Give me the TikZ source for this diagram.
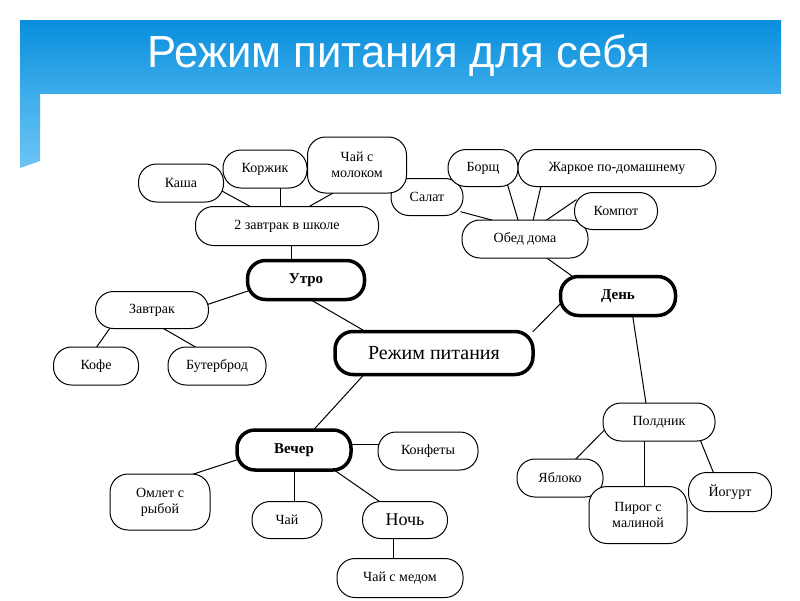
\documentclass[tikz,border=0pt]{standalone}
\usepackage{fontspec}
\setmainfont{Liberation Serif}
\newfontfamily\titlefont[FakeStretch=0.97]{Liberation Sans}
\usepackage{tikz}
\usetikzlibrary{backgrounds}

\definecolor{bartop}{RGB}{8,142,220}
\definecolor{barbot}{RGB}{60,172,234}
\definecolor{stripbot}{RGB}{110,196,245}

\begin{document}
\begin{tikzpicture}[x=1pt, y=-1pt,
	box/.style={draw, fill=white, rectangle, rounded corners=18pt, line width=1pt, inner sep=0pt, align=center, font=\fontsize{14}{16}\selectfont},
	hub/.style={box, line width=3.5pt, font=\fontsize{15}{17}\selectfont\bfseries},
	every edge/.append style={line width=1pt, shorten <=-3pt, shorten >=-3pt}]
		\useasboundingbox (0,0) rectangle (800,600);
		
		\node[font=\titlefont\fontsize{45}{50}\selectfont, text=white, anchor=base] (title) at (398.5,67) {Режим питания для себя};
		
		\node[hub, minimum width=198pt, minimum height=43pt, font=\fontsize{20}{22}\selectfont] (rezhim) at (434,353) {Режим питания};
		
		% утро
		\node[hub, minimum width=117pt, minimum height=39pt] (utro) at (306,280) {Утро};
		\node[box, minimum width=183pt, minimum height=39pt] (zavtrak2) at (287,226) {2 завтрак в школе};
		\node[box, minimum width=85pt, minimum height=38pt] (kasha) at (181,183) {Каша};
		\node[box, minimum width=84pt, minimum height=38pt] (korzhik) at (265,169) {Коржик};
		\node[box, minimum width=72pt, minimum height=37pt] (salat) at (427,197) {Салат};
		\node[box, minimum width=99pt, minimum height=56pt] (chaimilk) at (357,165) {Чай с\\молоком};
		\node[box, minimum width=113pt, minimum height=37pt] (zavtrak) at (152,310) {Завтрак};
		\node[box, minimum width=85pt, minimum height=38pt] (kofe) at (96,366) {Кофе};
		\node[box, minimum width=98pt, minimum height=38pt] (buter) at (217,366) {Бутерброд};
		
		% день
		\node[hub, minimum width=115pt, minimum height=39pt] (den) at (618,296) {День};
		\node[box, minimum width=126pt, minimum height=38pt] (obed) at (525,239) {Обед дома};
		\node[box, minimum width=70pt, minimum height=37pt] (borsch) at (483,168) {Борщ};
		\node[box, minimum width=198pt, minimum height=37pt] (zharkoe) at (617,168) {Жаркое по-домашнему};
		\node[box, minimum width=83pt, minimum height=37pt] (kompot) at (616,211) {Компот};
		\node[box, minimum width=112pt, minimum height=38pt] (poldnik) at (659,422) {Полдник};
		\node[box, minimum width=86pt, minimum height=38pt] (yabloko) at (560,478) {Яблоко};
		\node[box, minimum width=98pt, minimum height=57pt] (pirog) at (638,515) {Пирог с\\малиной};
		\node[box, minimum width=83pt, minimum height=39pt] (yogurt) at (730,492) {Йогурт};
		
		% вечер
		\node[hub, minimum width=114pt, minimum height=40pt] (vecher) at (294,450) {Вечер};
		\node[box, minimum width=100pt, minimum height=38pt] (konfety) at (428,451) {Конфеты};
		\node[box, minimum width=100pt, minimum height=56pt] (omlet) at (160,502) {Омлет с\\рыбой};
		\node[box, minimum width=70pt, minimum height=37pt] (chai) at (287,520) {Чай};
		\node[box, minimum width=85pt, minimum height=37pt, font=\fontsize{18}{20}\selectfont] (noch) at (405,520) {Ночь};
		\node[box, minimum width=126pt, minimum height=39pt] (chaimed) at (400,578) {Чай с медом};
		
		\begin{scope}[on background layer]
			\fill[white] (0,0) rectangle (800,600);
			\shade[top color=bartop, bottom color=barbot] (20,20) rectangle (781,93);
			\shade[top color=barbot, bottom color=stripbot] (20,93) -- (40,93) -- (40,161) -- (20,168) -- cycle;
			
			\path (rezhim.162) edge (utro.-71)
				(rezhim.13) edge (den.-171)
				(rezhim.-162) edge (vecher.46)
				(utro.124 |- zavtrak2.south) edge (utro.124)
				(kasha.-12) edge (zavtrak2.152)
				(korzhik.-52) edge (korzhik.-52 |- zavtrak2.north)
				(chaimilk.-131) edge (zavtrak2.41)
				(utro.-169) edge (zavtrak.6)
				(zavtrak.-156) edge (kofe.87)
				(zavtrak.-57) edge (buter.139)
				(obed.-41) edge (den.156)
				(salat.-23) edge (obed.151)
				(borsch.-37) edge (obed.110)
				(zharkoe.-166) edge (obed.67)
				(kompot.167) edge (obed.41)
				(den.-55) edge (poldnik.124)
				(poldnik.-170) edge (yabloko.50)
				(poldnik.-126) edge (poldnik.-126 |- pirog.north)
				(poldnik.-25) edge (yogurt.130)
				(vecher.5) edge (vecher.5 -| konfety.west)
				(vecher.-170) edge (omlet.39)
				(vecher.south) edge (vecher.south |- chai.north)
				(vecher.-27) edge (noch.144)
				(noch.-122) edge (noch.-122 |- chaimed.north);
		\end{scope}
	\end{tikzpicture}
\end{document}
